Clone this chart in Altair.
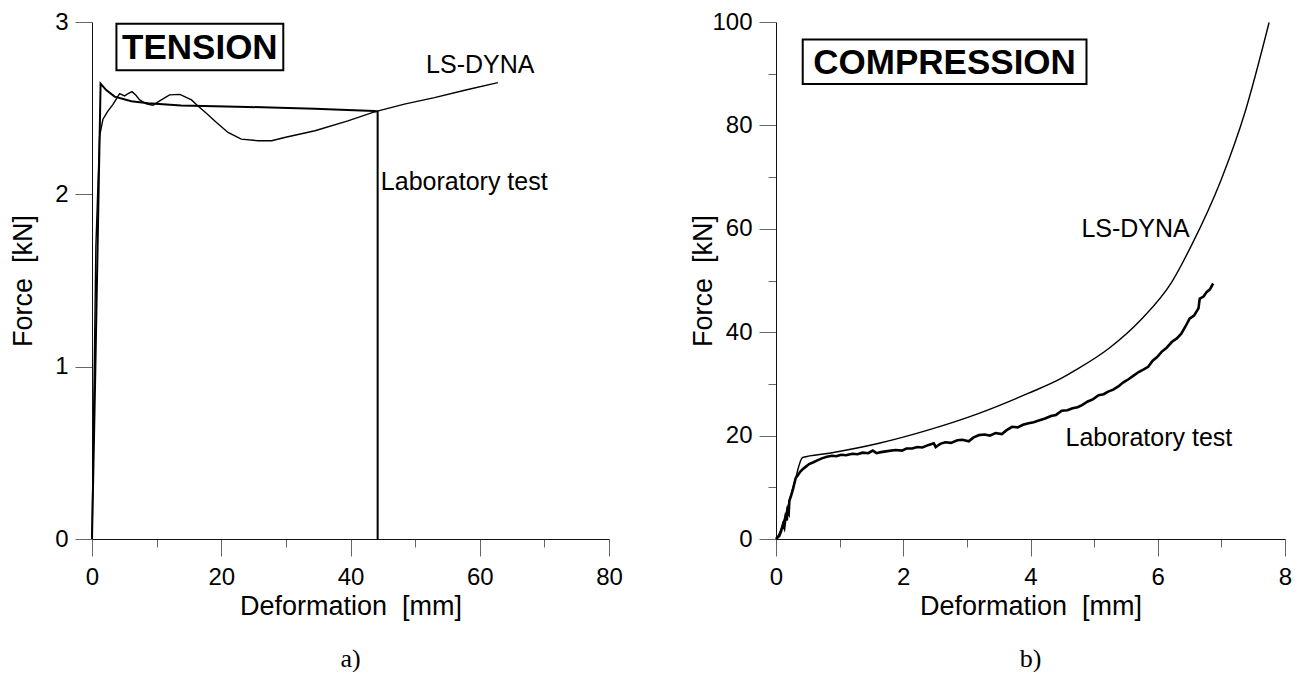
import altair as alt
import pandas as pd

# ---------------- Tension (a) ----------------
ten_dyna_x = [0, 0.6, 1.18, 1.70, 2.4, 3.25, 4.27, 5.05, 5.6, 6.19, 6.8, 7.37, 8.4, 9.44,
              10.47, 12.0, 13.6, 15.4, 16.4, 17.7, 19.0, 21.05, 23.1, 25.7, 27.8, 29.8,
              34.5, 39.6, 43.7, 44.3, 48.5, 53.0, 58.0, 62.8]
ten_dyna_y = [0, 1.70, 2.34, 2.436, 2.48, 2.522, 2.584, 2.571, 2.585, 2.596, 2.575, 2.548,
              2.525, 2.517, 2.542, 2.577, 2.58, 2.548, 2.513, 2.47, 2.426, 2.359, 2.32,
              2.311, 2.311, 2.33, 2.369, 2.426, 2.478, 2.484, 2.525, 2.561, 2.607, 2.648]

ten_lab_x = [0, 0.5, 1.33, 2.2, 3.5, 6.1, 8.7, 13.8, 19.0, 24.1, 29.0, 34.5, 39.5, 43.7, 44.2, 44.2]
ten_lab_y = [0, 0.95, 2.642, 2.605, 2.567, 2.54, 2.528, 2.516, 2.511, 2.507, 2.503, 2.497,
             2.49, 2.484, 2.48, 0]

# ---------------- Compression (b) ----------------
com_dyna_x = [0, 0.05, 0.2, 0.29, 0.418, 0.837, 1.62, 2.40, 3.19, 3.97, 4.49, 4.70, 5.23,
              5.75, 6.22, 6.53, 7.0, 7.37, 7.75]
com_dyna_y = [0, 1.0, 6.9, 10.9, 15.76, 16.59, 18.52, 21.1, 24.3, 28.2, 31.1, 32.6, 36.85,
              42.6, 49.7, 56.8, 69.6, 82.5, 99.9]

com_lab_x = [0, 0.05, 0.08, 0.11, 0.13, 0.15, 0.17, 0.18, 0.2, 0.21, 0.24, 0.27, 0.31, 0.34,
             0.38, 0.42, 0.47, 0.52, 0.58, 0.65, 0.72, 0.8, 0.88, 0.95, 1.02, 1.1, 1.2, 1.28,
             1.36, 1.45, 1.52, 1.58, 1.65, 1.75, 1.88, 1.98, 2.05, 2.14, 2.22, 2.3, 2.4, 2.48,
             2.51, 2.58, 2.66, 2.75, 2.85, 2.93, 3.03, 3.1, 3.19, 3.28, 3.36, 3.45, 3.55, 3.62,
             3.71, 3.8, 3.88, 3.97, 4.05, 4.13, 4.23, 4.32, 4.4, 4.49, 4.58, 4.66, 4.74, 4.81,
             4.9, 4.98, 5.07, 5.15, 5.22, 5.3, 5.38, 5.46, 5.54, 5.62, 5.70, 5.78, 5.85, 5.92,
             5.99, 6.06, 6.14, 6.22, 6.3, 6.37, 6.44, 6.50, 6.57, 6.64, 6.66, 6.72, 6.77, 6.82,
             6.87, 6.84]
com_lab_y = [0, 0.6, 1.5, 2.8, 2.2, 4.2, 3.6, 5.5, 5.0, 7.4, 8.5, 9.8, 11.8, 12.3,
             13.0, 13.5, 14.0, 14.5, 14.8, 15.2, 15.6, 15.9, 16.1, 16.0, 16.3, 16.2, 16.5, 16.4,
             16.7, 16.6, 17.1, 16.6, 16.8, 17.0, 17.2, 17.1, 17.5, 17.5, 17.8, 17.7, 18.2, 18.5,
             17.8, 18.4, 18.7, 18.6, 19.1, 19.2, 18.9, 19.6, 20.1, 20.2, 20.0, 20.5, 20.3, 21.0,
             21.7, 21.6, 22.1, 22.4, 22.6, 22.9, 23.3, 23.8, 24.0, 24.8, 24.9, 25.3, 25.5, 25.9,
             26.6, 27.0, 27.8, 28.0, 28.5, 28.9, 29.5, 30.3, 30.9, 31.6, 32.3, 32.8, 33.3, 34.5,
             35.2, 36.2, 37.0, 38.1, 38.8, 39.7, 41.2, 42.6, 43.2, 44.6, 46.5, 46.9, 47.8, 48.3,
             49.4, 48.8]

# annotation texts (data coordinates)
ten_labels = ["LS-DYNA", "Laboratory test"]
ten_label_x = [51.7, 44.7]
ten_label_y = [2.75, 2.07]
com_labels = ["LS-DYNA", "Laboratory test"]
com_label_x = [4.8, 4.55]
com_label_y = [60.0, 19.5]

ten_box = {"label": ["TENSION"], "x": [3.78], "x2": [29.6], "y": [2.99], "y2": [2.72]}
com_box = {"label": ["COMPRESSION"], "x": [0.42], "x2": [4.88], "y": [96.6], "y2": [88.0]}

FONT = "Liberation Sans"
PLOT_H = 517


def df_line(xs, ys):
    return pd.DataFrame({"x": xs, "y": ys, "i": list(range(len(xs)))})


def make_axis(vals, major, title, orient, title_x=None):
    kw = dict(
        values=vals,
        title=title,
        format="d",
        labelExpr=f"datum.value % {major} === 0 ? datum.label : ''",
        tickSize={"condition": {"test": f"datum.value % {major} === 0", "value": 17}, "value": 8},
        labelOverlap=False,
        grid=False,
        domainColor="#111111",
        tickColor="#666666",
        tickWidth=1,
        domainWidth=1,
        labelFont=FONT,
        labelFontSize=24,
        labelColor="black",
        titleFont=FONT,
        titleFontSize=27,
        titleFontWeight="normal",
        titleColor="black",
    )
    if orient == "bottom":
        kw.update(labelFlush=False, labelPadding=9, titlePadding=4)
    else:
        kw.update(labelPadding=7, titleX=title_x, titleY=PLOT_H / 2, titleBaseline="middle",
                  titleAngle=270)
    return alt.Axis(**kw)


def panel(dyna_df, lab_df, xdom, ydom, xaxis, yaxis, text_df, box, title, lab_w, interp, w):
    x = alt.X("x:Q", scale=alt.Scale(domain=xdom, nice=False, zero=False), axis=xaxis)
    y = alt.Y("y:Q", scale=alt.Scale(domain=ydom, nice=False, zero=False), axis=yaxis)
    dyna = alt.Chart(dyna_df).mark_line(color="black", strokeWidth=1.4,
                                        interpolate=interp).encode(x=x, y=y, order="i:Q")
    lab = alt.Chart(lab_df).mark_line(color="black", strokeWidth=lab_w).encode(
        x=x, y=y, order="i:Q")
    bdf = pd.DataFrame(box)
    rect = alt.Chart(bdf).mark_rect(fill="white", stroke="black", strokeWidth=2).encode(
        x=x, x2="x2:Q", y=y, y2="y2:Q")
    cdf = pd.DataFrame({"label": box["label"],
                        "x": [(box["x"][0] + box["x2"][0]) / 2],
                        "y": [(box["y"][0] + box["y2"][0]) / 2]})
    btxt = alt.Chart(cdf).mark_text(font=FONT, fontSize=35, fontWeight="bold",
                                    baseline="middle", align="center", color="black",
                                    dy=1).encode(x=x, y=y, text="label:N")
    txt = alt.Chart(text_df).mark_text(font=FONT, fontSize=25, align="left",
                                       baseline="middle", color="black").encode(
        x=x, y=y, text="label:N")
    return alt.layer(dyna, lab, rect, btxt, txt).properties(
        width=w, height=PLOT_H,
        title=alt.TitleParams(text=title, orient="bottom", font="Liberation Serif",
                              fontSize=26, fontWeight="normal", color="black",
                              anchor="middle", offset=27))


left = panel(
    df_line(ten_dyna_x, ten_dyna_y), df_line(ten_lab_x, ten_lab_y),
    [0, 80], [0, 3],
    make_axis(list(range(0, 81, 10)), 20, "Deformation\u00a0 [mm]", "bottom"),
    make_axis([0, 0.5, 1, 1.5, 2, 2.5, 3], 1, "Force\u00a0 [kN]", "left", title_x=-68.7),
    pd.DataFrame({"label": ten_labels, "x": ten_label_x, "y": ten_label_y}),
    ten_box, "a)", 2.0, "linear", 517)

right = panel(
    df_line(com_dyna_x, com_dyna_y), df_line(com_lab_x, com_lab_y),
    [0, 8], [0, 100],
    make_axis(list(range(0, 9)), 2, "Deformation\u00a0 [mm]", "bottom"),
    make_axis(list(range(0, 101, 10)), 20, "Force\u00a0 [kN]", "left", title_x=-72.3),
    pd.DataFrame({"label": com_labels, "x": com_label_x, "y": com_label_y}),
    com_box, "b)", 2.6, "monotone", 509)

chart = alt.hconcat(left, right, spacing=66).properties(
    padding={"left": 1, "top": 2, "right": 0, "bottom": 0}
).configure_view(stroke=None)

chart.save("out.html", embed_options={"renderer": "svg", "actions": False})
